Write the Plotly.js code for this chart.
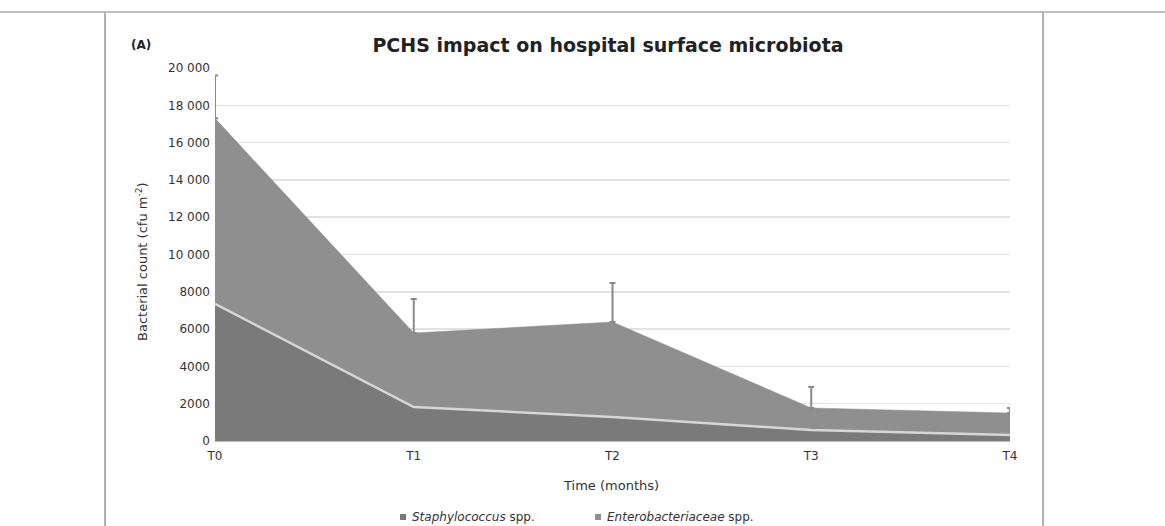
<!DOCTYPE html>
<html>
<head>
<meta charset="utf-8">
<script src="https://cdn.plot.ly/plotly-3.0.1.min.js"></script>
<style>html,body{margin:0;padding:0;background:#fff;}#chart{width:1165px;height:526px;}</style>
</head>
<body>
<div id="chart"></div>
<script>
const timepoints = ['T0', 'T1', 'T2', 'T3', 'T4'];
const staphylococcus = [7350, 1820, 1290, 590, 320];
const enterobacteriaceae = [9950, 3970, 5090, 1180, 1180];
const totalErrorPlus = [2300, 1820, 2090, 1130, 270];
const yTickVals = [0, 2000, 4000, 6000, 8000, 10000, 12000, 14000, 16000, 18000, 20000];
const yTickText = ['0', '2000', '4000', '6000', '8000', '10 000', '12 000', '14 000', '16 000', '18 000', '20 000'];
const seriesNames = ['<i>Staphylococcus</i> spp.', '<i>Enterobacteriaceae</i> spp.'];
const seriesColors = ['#7a7a7a', '#8f8f8f'];

const totals = staphylococcus.map((v, i) => v + enterobacteriaceae[i]);
const FONT = 'DejaVu Sans, Liberation Sans, sans-serif';

const traces = [
  {
    x: timepoints, y: staphylococcus, type: 'scatter', mode: 'lines',
    stackgroup: 'one', name: seriesNames[0],
    line: {color: '#d6d6d6', width: 2.5},
    fillcolor: seriesColors[0]
  },
  {
    x: timepoints, y: enterobacteriaceae, type: 'scatter', mode: 'lines',
    stackgroup: 'one', name: seriesNames[1],
    line: {color: seriesColors[1], width: 0.5},
    fillcolor: seriesColors[1]
  },
  {
    x: timepoints, y: totals, type: 'scatter', mode: 'markers',
    marker: {size: 1, color: 'rgba(0,0,0,0)'},
    showlegend: false, hoverinfo: 'skip',
    error_y: {type: 'data', symmetric: false, array: totalErrorPlus, arrayminus: [0,0,0,0,0],
              color: '#8a8a8a', thickness: 2, width: 3}
  }
];

const W = 795, H = 373, L = 215, B = 441;
const px = (p) => (p - L) / W;
const py = (p) => (B - p) / H;

const legendSquares = [403, 598];
const legendTextX = [410, 605];

const ann = (text, x, y, extra) => Object.assign({
  text: text, x: px(x), y: py(y), xref: 'paper', yref: 'paper', showarrow: false,
  xanchor: 'center', yanchor: 'middle', font: {size: 12, color: '#333'}
}, extra || {});

const layout = {
  width: 1165, height: 526,
  margin: {l: 215, r: 155, t: 68, b: 85, autoexpand: false},
  paper_bgcolor: '#ffffff', plot_bgcolor: '#ffffff',
  font: {family: FONT, color: '#333333', size: 12},
  title: {
    text: '<b>PCHS impact on hospital surface microbiota</b>',
    x: 608 / 1165, xref: 'container', xanchor: 'center',
    y: 1 - 45 / 526, yref: 'container', yanchor: 'middle',
    font: {size: 19, color: '#222222', family: FONT}
  },
  xaxis: {
    type: 'category', range: [0, 4], showgrid: false, zeroline: false,
    showline: true, linecolor: '#bdbdbd', linewidth: 1,
    ticks: '', tickfont: {size: 12, color: '#333'}, ticklabelstandoff: 4, fixedrange: true
  },
  yaxis: {
    range: [0, 20000], tickvals: yTickVals, ticktext: yTickText,
    showgrid: true, gridcolor: '#e2e2e2', gridwidth: 1.5, zeroline: false,
    showline: false, ticks: '', tickfont: {size: 12, color: '#333'}, ticklabelstandoff: 4, fixedrange: true
  },
  showlegend: false,
  annotations: [
    ann('<b>(A)</b>', 141, 45, {font: {size: 12, color: '#222'}}),
    ann('Bacterial count (cfu m<sup>-2</sup>)', 142, 262, {textangle: -90, font: {size: 13, color: '#333'}}),
    ann('Time (months)', 611, 485, {font: {size: 13, color: '#333'}}),
    ann(seriesNames[0], legendTextX[0], 517, {xanchor: 'left'}),
    ann(seriesNames[1], legendTextX[1], 517, {xanchor: 'left'})
  ],
  shapes: [
    {type: 'line', xref: 'paper', yref: 'paper', x0: px(0), x1: px(1165), y0: py(12), y1: py(12),
     line: {color: '#bdbdbd', width: 2}},
    {type: 'line', xref: 'paper', yref: 'paper', x0: px(105), x1: px(105), y0: py(12), y1: py(526),
     line: {color: '#b0b0b0', width: 2}},
    {type: 'line', xref: 'paper', yref: 'paper', x0: px(1043), x1: px(1043), y0: py(12), y1: py(526),
     line: {color: '#b0b0b0', width: 2}},
    {type: 'rect', xref: 'paper', yref: 'paper', x0: px(legendSquares[0] - 3), x1: px(legendSquares[0] + 3),
     y0: py(514), y1: py(520), fillcolor: seriesColors[0], line: {width: 0}},
    {type: 'rect', xref: 'paper', yref: 'paper', x0: px(legendSquares[1] - 3), x1: px(legendSquares[1] + 3),
     y0: py(514), y1: py(520), fillcolor: seriesColors[1], line: {width: 0}}
  ]
};

Plotly.newPlot('chart', traces, layout, {displayModeBar: false, staticPlot: true});
</script>
</body>
</html>
